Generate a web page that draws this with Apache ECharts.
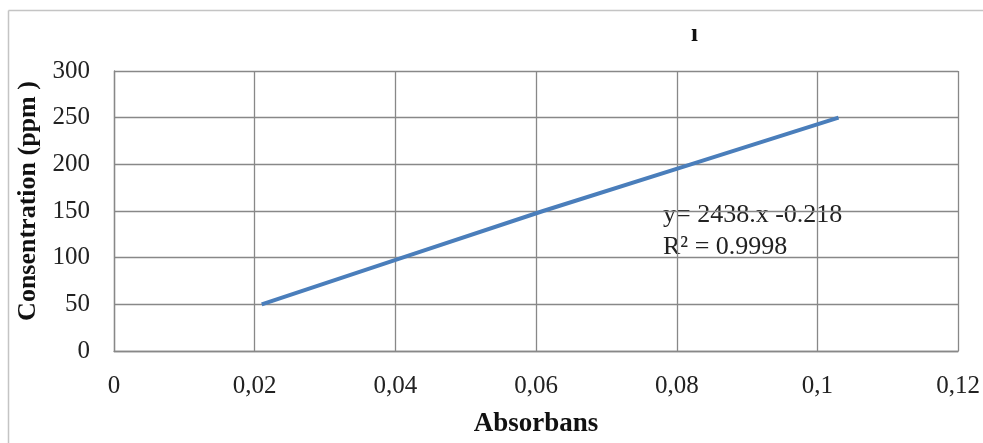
<!DOCTYPE html>
<html>
<head>
<meta charset="utf-8">
<script src="https://cdn.jsdelivr.net/npm/echarts@6/dist/echarts.min.js"></script>
<style>
html,body{margin:0;padding:0;background:#fff;}
#chart{width:983px;height:443px;}
</style>
</head>
<body>
<div id="chart"></div>
<script>
var absorbans = [0.021, 0.041, 0.061, 0.082, 0.103];
var concentration = [50, 100, 150, 200, 250];
var xTicks = ['0', '0,02', '0,04', '0,06', '0,08', '0,1', '0,12'];
var yTicks = ['0', '50', '100', '150', '200', '250', '300'];
var titleText = 'ı';
var xName = 'Absorbans';
var yName = 'Consentration (ppm )';
var eqLines = ['y= 2438.x -0.218', 'R² = 0.9998'];

var serif = '"Liberation Serif", "Times New Roman", serif';
var chart = echarts.init(document.getElementById('chart'));
var data = absorbans.map(function (x, i) { return [x, concentration[i]]; });

chart.setOption({
  animation: false,
  backgroundColor: '#fff',
  grid: { left: 114, right: 24, top: 71, bottom: 89 },
  xAxis: {
    type: 'value', min: 0, max: 0.12, interval: 0.02,
    name: xName, nameLocation: 'middle', nameGap: 60,
    nameTextStyle: { fontFamily: serif, fontWeight: 'bold', fontSize: 27, color: '#111' },
    axisLine: { show: true, lineStyle: { color: '#888', width: 1.3 } },
    axisTick: { show: false },
    axisLabel: {
      margin: 23, fontFamily: serif, fontSize: 25, color: '#222',
      formatter: function (v) { return xTicks[Math.round(v / 0.02)]; }
    },
    splitLine: { show: true, lineStyle: { color: '#888', width: 1.3 } }
  },
  yAxis: {
    type: 'value', min: 0, max: 300, interval: 50,
    name: yName, nameLocation: 'middle', nameGap: 65,
    nameTextStyle: { fontFamily: serif, fontWeight: 'bold', fontSize: 26, color: '#111', padding: [0, 0, 0, 20] },
    axisLine: { show: true, lineStyle: { color: '#888', width: 1.3 } },
    axisTick: { show: false },
    axisLabel: {
      margin: 24, fontFamily: serif, fontSize: 25, color: '#222',
      formatter: function (v) { return yTicks[Math.round(v / 50)]; }
    },
    splitLine: { show: true, lineStyle: { color: '#888', width: 1.3 } }
  },
  series: [{
    type: 'line', data: data, showSymbol: false, symbol: 'none',
    lineStyle: { color: '#4a7ebb', width: 4 }
  }],
  graphic: [
    { type: 'line', shape: { x1: 8.5, y1: 10.5, x2: 983, y2: 10.5 }, style: { stroke: '#c4c4c4', lineWidth: 1.5 } },
    { type: 'line', shape: { x1: 8.5, y1: 10.5, x2: 8.5, y2: 443 }, style: { stroke: '#c4c4c4', lineWidth: 1.5 } },
    { type: 'text', left: 691, top: 22, style: { text: titleText, font: 'bold 25px ' + serif, fill: '#111' } },
    { type: 'text', left: 663, top: 202, style: { text: eqLines[0], font: '26px ' + serif, fill: '#222' } },
    { type: 'text', left: 663, top: 234, style: { text: eqLines[1], font: '26px ' + serif, fill: '#222' } }
  ]
});
</script>
</body>
</html>
